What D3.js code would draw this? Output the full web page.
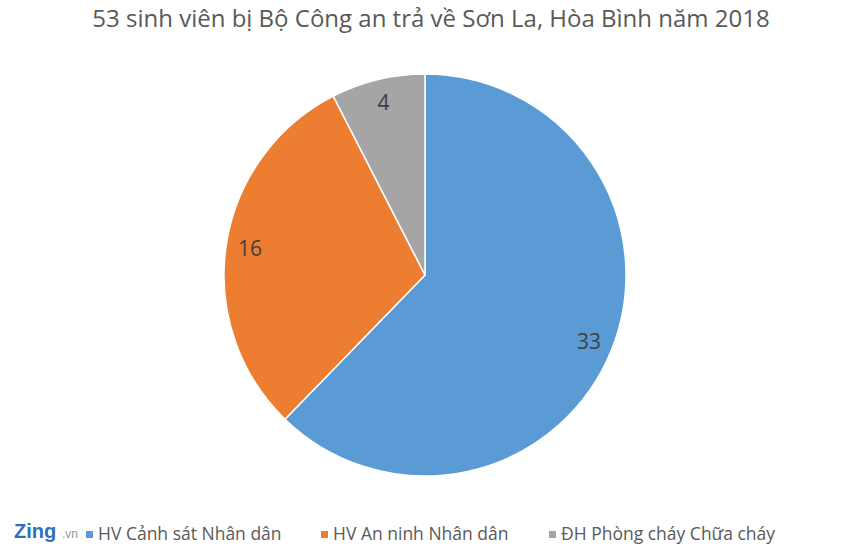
<!DOCTYPE html>
<html><head><meta charset="utf-8">
<script src="https://cdn.jsdelivr.net/npm/d3@7"></script>
<style>body{margin:0;background:#fff}</style>
</head><body>
<svg id="chart" width="860" height="552"></svg>
<script>
var categories = ["HV Cảnh sát Nhân dân", "HV An ninh Nhân dân", "ĐH Phòng cháy Chữa cháy"];
var values = [33, 16, 4];
var colors = ["#5b9bd5", "#ed7d31", "#a5a5a5"];

var svg = d3.select("#chart");
var font = "'Open Sans', 'Noto Sans', sans-serif";

svg.append("text").attr("x", 431).attr("y", 27).attr("text-anchor", "middle")
  .style("font-family", font).style("font-size", "24px").style("fill", "#595959")
  .text("53 sinh viên bị Bộ Công an trả về Sơn La, Hòa Bình năm 2018");

var cx = 425, cy = 275, r = 201;
var pie = d3.pie().sort(null);
var arcs = pie(values);
var arc = d3.arc().innerRadius(0).outerRadius(r);
var labelArc = d3.arc().innerRadius(r * 0.88).outerRadius(r * 0.88);

var g = svg.append("g").attr("transform", "translate(" + cx + "," + cy + ")");
g.selectAll("path").data(arcs).enter().append("path")
  .attr("d", arc).attr("fill", (d, i) => colors[i])
  .attr("stroke", "#fff").attr("stroke-width", 1.5);
g.selectAll("text").data(arcs).enter().append("text")
  .attr("transform", d => "translate(" + labelArc.centroid(d) + ")")
  .attr("text-anchor", "middle").attr("dy", "0.35em")
  .style("font-family", font).style("font-size", "21px").style("fill", "#404040")
  .text(d => d.data);

var legendX = [86, 321, 549];
var lg = svg.append("g");
categories.forEach(function(c, i) {
  lg.append("rect").attr("x", legendX[i]).attr("y", 531).attr("width", 7).attr("height", 7).attr("fill", colors[i]);
  lg.append("text").attr("x", legendX[i] + 12).attr("y", 540)
    .style("font-family", font).style("font-size", "17.5px").style("fill", "#595959").text(c);
});

svg.append("text").attr("x", 14).attr("y", 538)
  .style("font-family", "'Liberation Sans', Arial, sans-serif").style("font-size", "20px")
  .style("font-weight", "bold").style("fill", "#2f6fb5").text("Zing");
svg.append("text").attr("x", 62).attr("y", 538)
  .style("font-family", "'Liberation Sans', Arial, sans-serif").style("font-size", "12px")
  .style("fill", "#999").text(".vn");
</script>
</body></html>
